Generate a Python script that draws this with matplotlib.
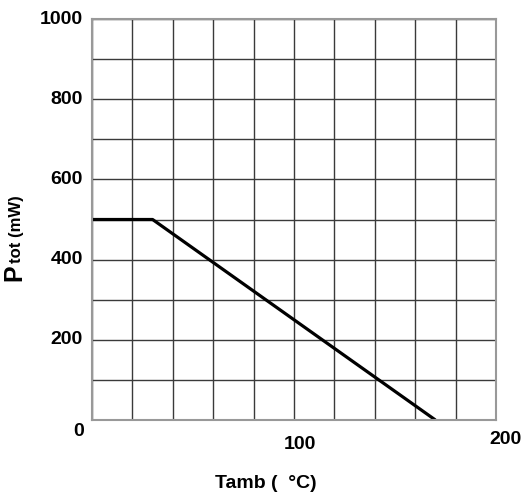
import matplotlib
matplotlib.use('Agg')
import matplotlib.pyplot as plt

plt.rcParams['font.family'] = ['Liberation Sans', 'DejaVu Sans']
plt.rcParams['font.weight'] = 'bold'

# derating curve
tamb = [0, 30, 170]
ptot = [500, 500, 0]

ylabels = [200, 400, 600, 800, 1000]
xlabels = [100, 200]

W, H = 524, 497
fig = plt.figure(figsize=(W / 100, H / 100), dpi=100)
ax = fig.add_axes([92 / W, 1 - 420 / H, 404 / W, 401 / H])

ax.set_xlim(0, 200)
ax.set_ylim(0, 1000)
ax.set_xticks(range(0, 201, 20))
ax.set_yticks(range(0, 1001, 100))
ax.tick_params(length=0, labelbottom=False, labelleft=False)
ax.grid(True, color='#3a3a3a', lw=1.0)
ax.set_axisbelow(True)
for s in ax.spines.values():
    s.set_color('#999999')
    s.set_linewidth(1.5)

ax.plot(tamb, ptot, color='black', lw=2.3, solid_capstyle='butt')

fs = 14
for v in ylabels:
    ax.annotate(str(v), (0, v), xytext=(-6.5, 0), textcoords='offset points',
                ha='right', va='center', fontsize=fs, fontweight='bold')
ax.annotate('0', (0, 0), xytext=(-9.7, -8.6), textcoords='offset points',
            ha='center', va='center', fontsize=fs, fontweight='bold')
ax.annotate(str(xlabels[0]), (xlabels[0], 0), xytext=(4.3, -17.3),
            textcoords='offset points', ha='center', va='center',
            fontsize=fs, fontweight='bold')
ax.annotate(str(xlabels[1]), (xlabels[1], 0), xytext=(7.2, -14.4),
            textcoords='offset points', ha='center', va='center',
            fontsize=fs, fontweight='bold')

fig.text(266 / W, 1 - 484 / H, 'Tamb (  \u00b0C)', ha='center', va='center',
         fontsize=14, fontweight='bold')
fig.text(14.5 / W, 1 - 272.5 / H, 'P', rotation=90, ha='center', va='center',
         fontsize=18, fontweight='bold')
fig.text(16.5 / W, 1 - 229 / H, 'tot (mW)', rotation=90, ha='center', va='center',
         fontsize=12, fontweight='bold')

fig.savefig('out.png', dpi=100)
